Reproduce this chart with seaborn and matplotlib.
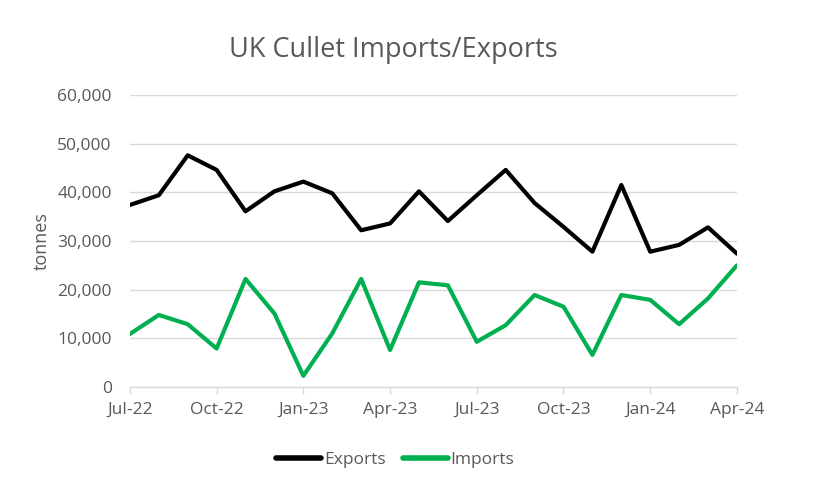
import numpy as np
import pandas as pd
import matplotlib.pyplot as plt
import seaborn as sns

# ── Data (tonnes per month, Jul-22 .. Apr-24) ─────────────
months = pd.date_range("2022-07-01", "2024-04-01", freq="MS")
exports = [37400, 39400, 47600, 44600, 36100, 40200, 42200, 39800, 32200, 33600,
           40200, 34100, 39400, 44600, 37800, 32900, 27800, 41500, 27800, 29200,
           32800, 27400]
imports = [10900, 14800, 12900, 7900, 22200, 15100, 2300, 11000, 22200, 7600,
           21500, 20900, 9300, 12700, 18900, 16500, 6600, 18900, 17900, 12900,
           18200, 25000]
tick_labels = ["Jul-22", "Oct-22", "Jan-23", "Apr-23", "Jul-23", "Oct-23", "Jan-24", "Apr-24"]

df = pd.DataFrame({
    "idx": np.tile(np.arange(len(months)), 2),
    "value": exports + imports,
    "series": ["Exports"] * len(months) + ["Imports"] * len(months),
})

sns.set_theme(style="white")
plt.rcParams["font.family"] = ["Open Sans", "DejaVu Sans"]
grey = "#595959"

fig = plt.figure(figsize=(8.17, 4.9), dpi=100)
ax = fig.add_axes([0.159, 0.2102, 0.743, 0.5960])

sns.lineplot(data=df, x="idx", y="value", hue="series",
             palette={"Exports": "#000000", "Imports": "#00B050"},
             linewidth=3.0, ax=ax, legend=True)

ax.set_xlim(0, len(months) - 1)
ax.set_ylim(0, 60000)
ax.set_yticks(np.arange(0, 60001, 10000))
ax.set_yticklabels([f"{v:,}" for v in range(0, 60001, 10000)])
ax.set_xticks(np.arange(0, len(months), 3))
ax.set_xticklabels(tick_labels)

ax.grid(axis="y", color="#D9D9D9", linewidth=1)
ax.set_axisbelow(True)
for s in ["top", "right", "left"]:
    ax.spines[s].set_visible(False)
ax.spines["bottom"].set_color("#D9D9D9")
ax.spines["bottom"].set_linewidth(1)
ax.tick_params(axis="x", labelsize=12.5, length=5, width=1,
               direction="out", bottom=True, pad=6, color="#D9D9D9", labelcolor=grey)
ax.tick_params(axis="y", colors=grey, labelsize=12.5, length=0, pad=13)

ax.set_xlabel("")
ax.set_ylabel("tonnes", color=grey, fontsize=13, labelpad=5)

fig.text(0.481, 0.897, "UK Cullet Imports/Exports", ha="center", va="center",
         fontsize=19.5, color=grey)

leg = ax.legend(loc="center", bbox_to_anchor=(0.437, -0.25), ncol=2, frameon=False,
                fontsize=12.5, handlelength=2.6, handletextpad=0.15, columnspacing=1.0)
for t in leg.get_texts():
    t.set_color(grey)
for h in leg.get_lines():
    h.set_linewidth(4)

fig.savefig("out.png", dpi=100, facecolor="white")
